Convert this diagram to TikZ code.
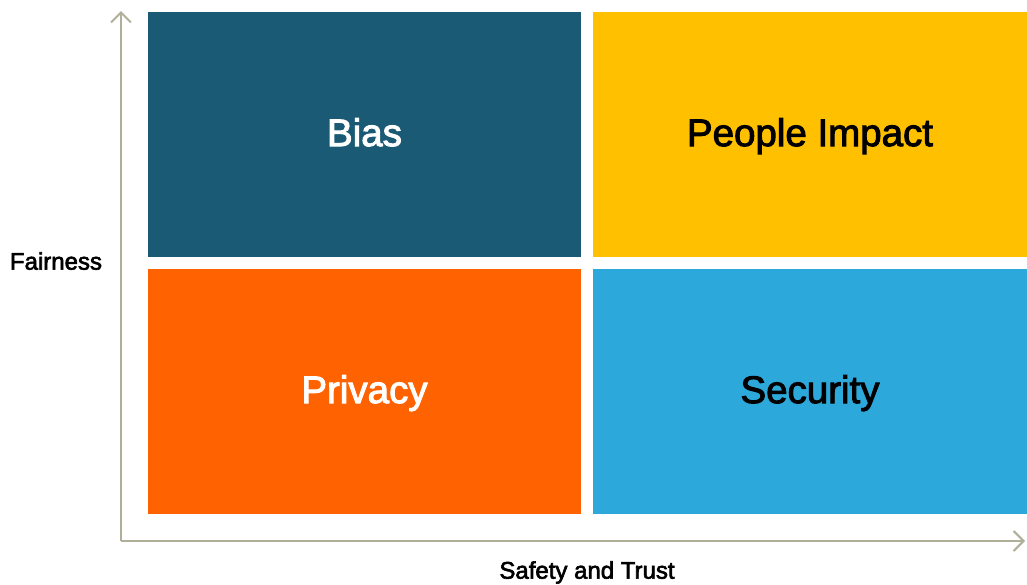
\documentclass[tikz,border=0pt]{standalone}
\usepackage{fontspec}
\setmainfont{Liberation Sans}
\newfontfamily\medfont[FakeBold=2.5]{Liberation Sans}
\usetikzlibrary{arrows.meta}
\definecolor{biasc}{HTML}{1A5A75}
\definecolor{peoplec}{HTML}{FFC000}
\definecolor{privc}{HTML}{FF6200}
\definecolor{secc}{HTML}{2CA8DB}
\definecolor{axisc}{HTML}{B0B09A}
\begin{document}
\begin{tikzpicture}[x=1pt,y=-1pt,
  quad/.style={draw=none,minimum width=433pt,minimum height=245pt,inner sep=0pt,text height=27.7pt,text depth=4.5pt,font=\medfont\fontsize{38.5}{40}\selectfont},
  axlabel/.style={font=\medfont\fontsize{24}{26}\selectfont,inner sep=0pt,text height=17.3pt,text depth=0pt},
  axline/.style={draw=axisc,line width=2pt,-{Straight Barb[length=10pt,width=20pt,line width=2pt]}}]
\useasboundingbox (0,0) rectangle (1027,584);
\fill[white] (0,0) rectangle (1027,584);
\node[quad,fill=biasc,text=white] (bias) at (364.5,134.5) {Bias};
\node[quad,fill=peoplec,text=black,minimum width=434pt] (people) at (810,134.5) {People Impact};
\node[quad,fill=privc,text=white] (privacy) at (364.5,391.5) {Privacy};
\node[quad,fill=secc,text=black,minimum width=434pt] (security) at (810,391.5) {Security};
\coordinate (origin) at (121,541);
\coordinate (ytop) at (121,11);
\coordinate (xend) at (1025,541);
\draw[axline] (origin) -- (ytop);
\draw[axline] (origin) -- (xend);
\node[axlabel] (fair) at (56,261) {Fairness};
\node[axlabel] (safe) at (587,570) {Safety and Trust};
\end{tikzpicture}
\end{document}
